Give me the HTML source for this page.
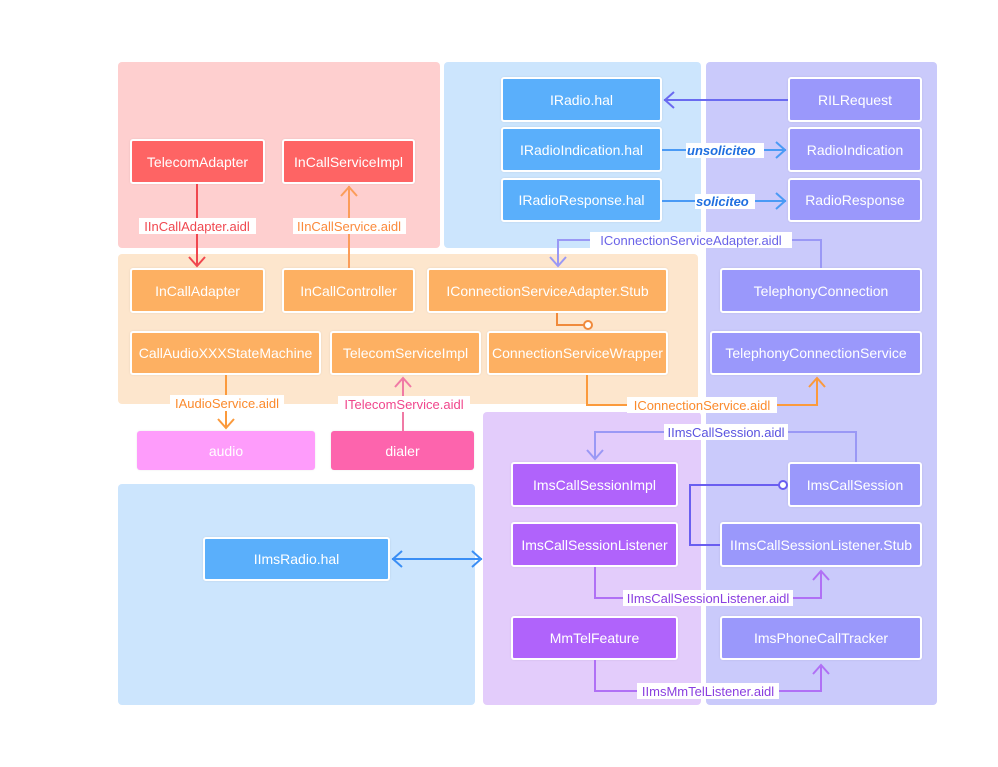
<!DOCTYPE html>
<html><head><meta charset="utf-8"><style>
body{margin:0;width:998px;height:767px;background:#fff;position:relative;overflow:hidden;font-family:"Liberation Sans","DejaVu Sans",sans-serif}
.r{position:absolute;border-radius:4px}
.n{position:absolute;box-sizing:border-box;border:2px solid #fff;border-radius:3px;color:#fff;font-size:14px;display:flex;align-items:center;justify-content:center;white-space:nowrap;box-shadow:0 0 2px rgba(0,0,0,.08)}
.red{background:#fe6464}.blu{background:#5aaffb}.pur{background:#9a98fb}.org{background:#fdb062}.vio{background:#b063fb}
svg{position:absolute;left:0;top:0}
svg text{font-family:"Liberation Sans","DejaVu Sans",sans-serif;font-size:13px}
</style></head><body>
<div class="r" style="left:118px;top:62px;width:322px;height:186px;background:#fecfcf"></div>
<div class="r" style="left:444px;top:62px;width:257px;height:186px;background:#cce5fd"></div>
<div class="r" style="left:706px;top:62px;width:231px;height:643px;background:#cacafb"></div>
<div class="r" style="left:118px;top:254px;width:580px;height:150px;background:#fde6cd"></div>
<div class="r" style="left:483px;top:412px;width:218px;height:293px;background:#e3ccfb"></div>
<div class="r" style="left:118px;top:484px;width:357px;height:221px;background:#cce5fd"></div>

<div class="n red" style="left:130px;top:139px;width:135px;height:45px">TelecomAdapter</div>
<div class="n red" style="left:282px;top:139px;width:133px;height:45px">InCallServiceImpl</div>
<div class="n blu" style="left:501px;top:77px;width:161px;height:45px">IRadio.hal</div>
<div class="n blu" style="left:501px;top:127px;width:161px;height:45px">IRadioIndication.hal</div>
<div class="n blu" style="left:501px;top:178px;width:161px;height:44px">IRadioResponse.hal</div>
<div class="n pur" style="left:788px;top:77px;width:134px;height:45px">RILRequest</div>
<div class="n pur" style="left:788px;top:127px;width:134px;height:45px">RadioIndication</div>
<div class="n pur" style="left:788px;top:178px;width:134px;height:44px">RadioResponse</div>
<div class="n org" style="left:130px;top:268px;width:135px;height:45px">InCallAdapter</div>
<div class="n org" style="left:282px;top:268px;width:133px;height:45px">InCallController</div>
<div class="n org" style="left:427px;top:268px;width:241px;height:45px">IConnectionServiceAdapter.Stub</div>
<div class="n org" style="left:130px;top:331px;width:191px;height:44px">CallAudioXXXStateMachine</div>
<div class="n org" style="left:330px;top:331px;width:151px;height:44px">TelecomServiceImpl</div>
<div class="n org" style="left:487px;top:331px;width:181px;height:44px">ConnectionServiceWrapper</div>
<div class="n pur" style="left:720px;top:268px;width:202px;height:45px">TelephonyConnection</div>
<div class="n pur" style="left:710px;top:331px;width:212px;height:44px">TelephonyConnectionService</div>
<div class="n" style="left:137px;top:431px;width:178px;height:39px;background:#fe9cfb;border:none">audio</div>
<div class="n" style="left:331px;top:431px;width:143px;height:39px;background:#fd64ad;border:none">dialer</div>
<div class="n vio" style="left:511px;top:462px;width:167px;height:45px">ImsCallSessionImpl</div>
<div class="n vio" style="left:511px;top:522px;width:167px;height:45px">ImsCallSessionListener</div>
<div class="n vio" style="left:511px;top:616px;width:167px;height:44px">MmTelFeature</div>
<div class="n pur" style="left:788px;top:462px;width:134px;height:45px">ImsCallSession</div>
<div class="n pur" style="left:720px;top:522px;width:202px;height:45px">IImsCallSessionListener.Stub</div>
<div class="n pur" style="left:720px;top:616px;width:202px;height:44px">ImsPhoneCallTracker</div>
<div class="n blu" style="left:203px;top:537px;width:187px;height:44px">IImsRadio.hal</div>

<svg width="998" height="767" fill="none" stroke-width="2">
<path d="M197 184V266" stroke="#f0474f"/><path d="M189 257l8 9 8-9" stroke="#f0474f"/>
<rect x="139" y="218" width="117" height="16" fill="#fff" stroke="none"/>
<text x="197" y="231" text-anchor="middle" fill="#f0474f" stroke="none">IInCallAdapter.aidl</text>
<path d="M349 268V186" stroke="#fb9d5a"/><path d="M341 196l8-9 8 9" stroke="#fb9d5a"/>
<rect x="293" y="218" width="113" height="16" fill="#fff" stroke="none"/>
<text x="349" y="231" text-anchor="middle" fill="#fb8a3c" stroke="none">IInCallService.aidl</text>
<path d="M788 100H664" stroke="#6a6af0"/><path d="M674 92l-9 8 9 8" stroke="#6a6af0"/>
<path d="M662 150H786" stroke="#4a9af5"/><path d="M776 142l9 8-9 8" stroke="#4a9af5"/>
<rect x="686" y="143" width="78" height="15" fill="#fff" stroke="none"/>
<text x="687" y="155" fill="#1f6fe0" stroke="none" font-style="italic" font-weight="bold">unsoliciteo</text>
<path d="M662 201H786" stroke="#4a9af5"/><path d="M776 193l9 8-9 8" stroke="#4a9af5"/>
<rect x="695" y="194" width="60" height="15" fill="#fff" stroke="none"/>
<text x="696" y="206" fill="#1f6fe0" stroke="none" font-style="italic" font-weight="bold">soliciteo</text>
<path d="M821 268V240H558V266" stroke="#9a98f5"/><path d="M550 257l8 9 8-9" stroke="#9a98f5"/>
<rect x="590" y="232" width="202" height="16" fill="#fff" stroke="none"/>
<text x="691" y="245" text-anchor="middle" fill="#6a63e8" stroke="none">IConnectionServiceAdapter.aidl</text>
<path d="M557 313V325H584" stroke="#f08a3c"/><circle cx="588" cy="325" r="4" stroke="#f08a3c" fill="#fff"/>
<path d="M587 375V405H817V378" stroke="#fb9a3c"/><path d="M809 387l8-9 8 9" stroke="#fb9a3c"/>
<rect x="627" y="397" width="150" height="16" fill="#fff" stroke="none"/>
<text x="702" y="410" text-anchor="middle" fill="#fb8a2c" stroke="none">IConnectionService.aidl</text>
<path d="M226 375V428" stroke="#fb9a3c"/><path d="M218 419l8 9 8-9" stroke="#fb9a3c"/>
<rect x="170" y="395" width="114" height="16" fill="#fff" stroke="none"/>
<text x="227" y="408" text-anchor="middle" fill="#fb8a2c" stroke="none">IAudioService.aidl</text>
<path d="M403 431V378" stroke="#f07aa5"/><path d="M395 387l8-9 8 9" stroke="#f07aa5"/>
<rect x="338" y="396" width="132" height="16" fill="#fff" stroke="none"/>
<text x="404" y="409" text-anchor="middle" fill="#f0468c" stroke="none">ITelecomService.aidl</text>
<path d="M856 462V432H595V459" stroke="#9a98f5"/><path d="M587 450l8 9 8-9" stroke="#9a98f5"/>
<rect x="664" y="424" width="124" height="16" fill="#fff" stroke="none"/>
<text x="726" y="437" text-anchor="middle" fill="#5a53e0" stroke="none">IImsCallSession.aidl</text>
<path d="M720 545H690V485H780" stroke="#6a5ef0"/><circle cx="783" cy="485" r="4" stroke="#6a5ef0" fill="#fff"/>
<path d="M392 559H482" stroke="#3a8ef5"/><path d="M402 551l-9 8 9 8M472 551l9 8-9 8" stroke="#3a8ef5"/>
<path d="M595 567V598H821V571" stroke="#b070f5"/><path d="M813 580l8-9 8 9" stroke="#b070f5"/>
<rect x="623" y="590" width="170" height="16" fill="#fff" stroke="none"/>
<text x="708" y="603" text-anchor="middle" fill="#8a3ee0" stroke="none">IImsCallSessionListener.aidl</text>
<path d="M595 660V691H821V665" stroke="#b070f5"/><path d="M813 674l8-9 8 9" stroke="#b070f5"/>
<rect x="637" y="683" width="142" height="16" fill="#fff" stroke="none"/>
<text x="708" y="696" text-anchor="middle" fill="#8a3ee0" stroke="none">IImsMmTelListener.aidl</text>
</svg>
</body></html>
